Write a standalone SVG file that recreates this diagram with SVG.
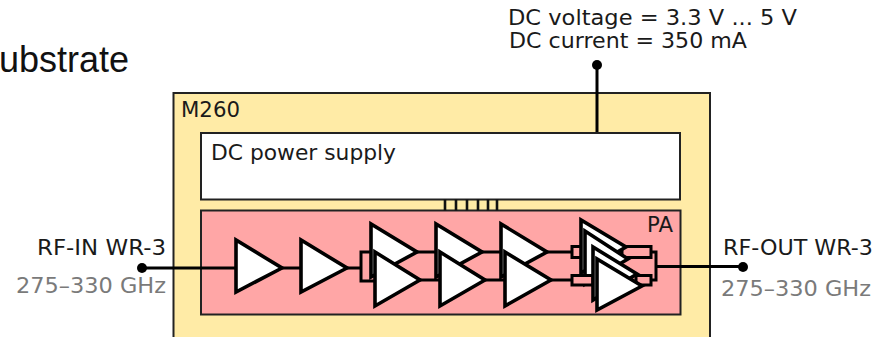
<svg xmlns="http://www.w3.org/2000/svg" width="886" height="337" viewBox="0 0 886 337">
<style>
text{font-family:"DejaVu Sans",Verdana,sans-serif;font-size:21px;fill:#1a1a1a}
.g{fill:#7a7a7a}
.box{stroke:#222;stroke-width:2}
.amp{fill:#fff;stroke:#000;stroke-width:3.6;stroke-linejoin:miter}
.w{fill:none;stroke:#000;stroke-width:3}
.c{fill:#ffa6a6;stroke:#000;stroke-width:3}
.t{fill:none;stroke:#111;stroke-width:2.6}
</style>
<rect width="886" height="337" fill="#fff"/>
<text x="-1" y="72" style="font-family:'Liberation Sans',Arial,sans-serif;font-size:36px;fill:#111">ubstrate</text>
<g id="m260"><rect class="box" x="173.500" y="93" width="536.500" height="260" fill="#ffeba6"/><text x="181" y="117" textLength="59" lengthAdjust="spacingAndGlyphs">M260</text></g>
<g id="dc-supply"><rect class="box" x="201" y="133" width="479" height="66.500" fill="#fff"/><text x="211" y="160" textLength="185" lengthAdjust="spacingAndGlyphs">DC power supply</text></g>
<g id="pa"><rect class="box" x="201" y="210.500" width="479.500" height="104" fill="#ffa6a6"/><text x="647" y="232" textLength="26" lengthAdjust="spacingAndGlyphs">PA</text></g>
<g id="connectors">
<path class="t" d="M445 199.500V210.500M456 199.500V210.500M467 199.500V210.500M478 199.500V210.500M488 199.500V210.500M497 199.500V210.500"/>
<path class="w" d="M142 268H235M282 268H301M347 268H361M361 268V252H370M361 268V281H374M417 252H435M420 280H439M482 252H500M485 280H504"/>
<path class="w" d="M597 64V132"/>
<path class="w" d="M547 252H572M551 280H572"/>
<path class="c" d="M572 246.500H582V257.500H572Z"/>
<path class="c" d="M622 246.500H651V257.500H622ZM636 275.500H651V285H636Z"/>
<path class="w" d="M651 252H656V280H651M656 266.500H743"/>
<circle cx="142" cy="268" r="5" fill="#000"/><circle cx="743" cy="267" r="5" fill="#000"/><circle cx="597" cy="65" r="5" fill="#000"/>
</g>
<g id="amp1"><path class="amp" d="M236 240V292L282 268Z"/></g>
<g id="amp2"><path class="amp" d="M301 240V292L347 268Z"/></g>
<g id="amp3a"><path class="amp" d="M371 224V277L417 252Z"/></g>
<g id="amp3b"><path class="amp" d="M375 252V306L420 280Z"/></g>
<g id="amp4a"><path class="amp" d="M436 224V277L482 252Z"/></g>
<g id="amp4b"><path class="amp" d="M440 252V306L485 280Z"/></g>
<g id="amp5a"><path class="amp" d="M501 224V277L547 252Z"/></g>
<g id="amp5b"><path class="amp" d="M505 252V306L551 280Z"/></g>
<g id="amp6a"><path class="amp" d="M581 220V273L626 247Z"/></g>
<g id="amp6b"><path class="amp" d="M585 231V284L628 259Z"/></g>
<g id="coupler"><path class="c" d="M572 275.500H593V285H572Z"/></g>
<g id="amp6c"><path class="amp" d="M593 247V300L637 274Z"/></g>
<g id="amp6d"><path class="amp" d="M597 259V310L642 286Z"/></g>
<g id="labels">
<text x="37" y="255" textLength="129" lengthAdjust="spacingAndGlyphs">RF-IN WR-3</text>
<text class="g" x="16" y="293" textLength="150" lengthAdjust="spacingAndGlyphs">275–330 GHz</text>
<text x="723" y="255" textLength="150" lengthAdjust="spacingAndGlyphs">RF-OUT WR-3</text>
<text class="g" x="721" y="296" textLength="150" lengthAdjust="spacingAndGlyphs">275–330 GHz</text>
<text x="508" y="25" textLength="289" lengthAdjust="spacingAndGlyphs" style="font-size:21.5px">DC voltage = 3.3 V ... 5 V</text>
<text x="509" y="48" textLength="238" lengthAdjust="spacingAndGlyphs" style="font-size:21.5px">DC current = 350 mA</text>
</g>
</svg>
